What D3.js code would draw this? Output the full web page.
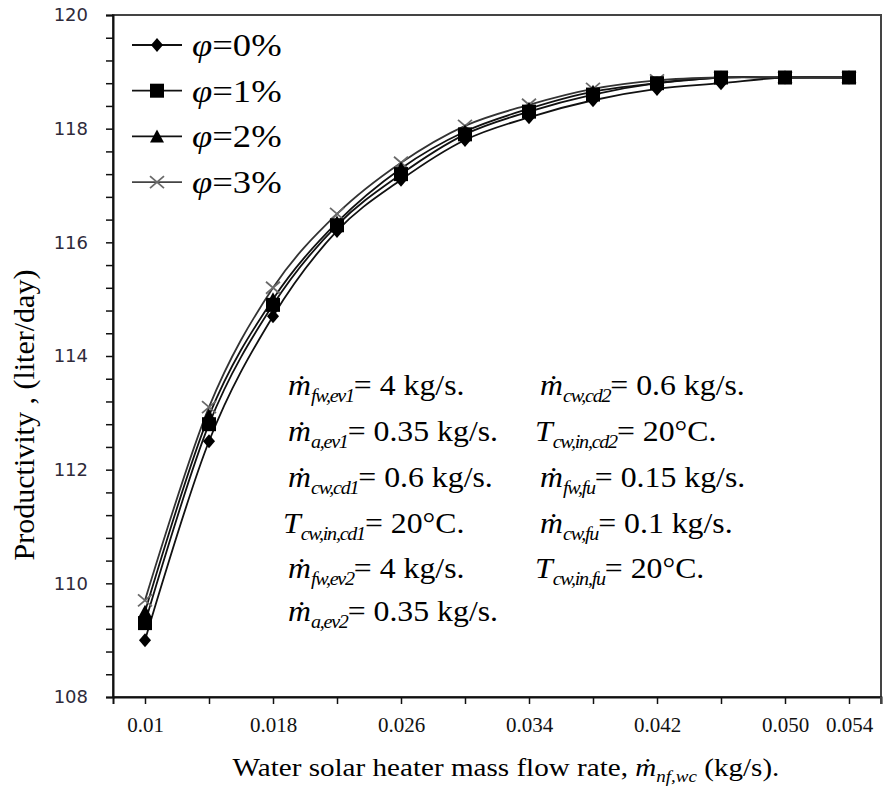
<!DOCTYPE html>
<html>
<head>
<meta charset="utf-8">
<script src="https://cdn.jsdelivr.net/npm/d3@7"></script>
<style>
  html, body { margin: 0; padding: 0; background: #fff; }
  svg { display: block; }
</style>
</head>
<body>
<svg id="chart" width="883" height="789"></svg>
<script>
// Water solar heater mass flow rate (kg/s)
const flowRates = [0.01, 0.014, 0.018, 0.022, 0.026, 0.03, 0.034, 0.038, 0.042, 0.046, 0.05, 0.054];
const flowTickLabels = ["0.01", "", "0.018", "", "0.026", "", "0.034", "", "0.042", "", "0.050", "0.054"];

// Productivity (liter/day) for each nanoparticle volume fraction
const phi0 = [109.0, 112.5, 114.7, 116.2, 117.1, 117.8, 118.2, 118.5, 118.7, 118.8, 118.9, 118.9];
const phi1 = [109.3, 112.8, 114.9, 116.3, 117.2, 117.9, 118.3, 118.6, 118.8, 118.9, 118.9, 118.9];
const phi2 = [109.5, 112.95, 115.0, 116.35, 117.3, 117.95, 118.35, 118.65, 118.8, 118.9, 118.9, 118.9];
const phi3 = [109.7, 113.1, 115.2, 116.5, 117.4, 118.05, 118.42, 118.7, 118.85, 118.9, 118.9, 118.9];

const seriesNames = ["0%", "1%", "2%", "3%"];
const seriesValues = [phi0, phi1, phi2, phi3];
const markerKinds = ["diamond", "square", "triangle", "cross"];

const yMajorTicks = [108, 110, 112, 114, 116, 118, 120];

const svg = d3.select("#chart");
const W = 883, H = 789;
const m = { left: 113, top: 15, right: 2, bottom: 92 };
const plotW = W - m.left - m.right;
const plotH = H - m.top - m.bottom;

const serif = "Liberation Serif";
const sans = "DejaVu Sans";
const WIDEN = 1.06; // annotation text is set slightly wide

const x = d3.scalePoint().domain(flowRates).range([0, plotW]).padding(0.5);
const y = d3.scaleLinear().domain([108, 120]).range([plotH, 0]);

const g = svg.append("g").attr("transform", `translate(${m.left},${m.top})`);

// Frame
g.append("rect")
  .attr("x", 0).attr("y", 0).attr("width", plotW).attr("height", plotH)
  .attr("fill", "none").attr("stroke", "#444").attr("stroke-width", 2);

// Y axis: major ticks every 2 with labels, minor ticks every 0.4
const yMinor = d3.range(0, 31).map(i => 108 + i * 0.4);
const yAxis = d3.axisLeft(y).tickValues(yMinor).tickSize(7).tickFormat("");
const yAxisG = g.append("g").call(yAxis);
yAxisG.select(".domain").attr("stroke", "#111").attr("stroke-width", 2);
yAxisG.selectAll(".tick line").attr("stroke", "#111").attr("stroke-width", 1.5);

g.append("g").selectAll("text").data(yMajorTicks).join("text")
  .attr("x", -25).attr("y", d => y(d)).attr("dy", "0.36em")
  .attr("text-anchor", "end")
  .attr("font-family", sans).attr("font-size", 18)
  .attr("fill", "#2e2a3a")
  .text(d => d);

// X axis: tick at each flow rate
const xAxis = d3.axisBottom(x).tickSize(7).tickFormat((d, i) => flowTickLabels[i]);
const xAxisG = g.append("g").attr("transform", `translate(0,${plotH})`).call(xAxis)
  .attr("font-family", serif);
xAxisG.select(".domain").attr("stroke", "#111").attr("stroke-width", 2);
xAxisG.selectAll(".tick line").attr("stroke", "#111").attr("stroke-width", 1.5);
xAxisG.selectAll(".tick text")
  .attr("font-family", serif).attr("font-size", 21).attr("fill", "#111")
  .attr("y", 20);
g.append("line").attr("x1", plotW).attr("x2", plotW).attr("y1", plotH).attr("y2", plotH + 7)
  .attr("stroke", "#444").attr("stroke-width", 2);

// Curves
const line = d3.line()
  .x((d, i) => x(flowRates[i]))
  .y(d => y(d))
  .curve(d3.curveCardinal.tension(0));

const lineColors = ["#111", "#111", "#111", "#333"];
seriesValues.forEach((vals, s) => {
  g.append("path").datum(vals)
    .attr("d", line)
    .attr("fill", "none")
    .attr("stroke", lineColors[s])
    .attr("stroke-width", 1.8);
});

function drawMarker(sel, kind) {
  if (kind === "diamond") {
    sel.append("path").attr("d", "M0,-7L6,0L0,7L-6,0Z").attr("fill", "#000");
  } else if (kind === "square") {
    sel.append("rect").attr("x", -7).attr("y", -7).attr("width", 14).attr("height", 14).attr("fill", "#000");
  } else if (kind === "triangle") {
    sel.append("path").attr("d", "M0,-7L7,6L-7,6Z").attr("fill", "#000");
  } else {
    sel.append("path").attr("d", "M-7,-6L7,6M-7,6L7,-6")
      .attr("stroke", "#6a6a6a").attr("stroke-width", 1.8).attr("fill", "none");
  }
}

// Cross markers sit underneath the filled ones
[3, 0, 1, 2].forEach(s => {
  g.append("g").selectAll("g").data(seriesValues[s]).join("g")
    .attr("transform", (d, i) => `translate(${x(flowRates[i])},${y(d)})`)
    .each(function () { drawMarker(d3.select(this), markerKinds[s]); });
});

// Legend
const legend = svg.append("g").attr("transform", "translate(132,45)");
seriesNames.forEach((name, i) => {
  const row = legend.append("g").attr("transform", `translate(0,${i * 45.7})`);
  row.append("line").attr("x1", 0).attr("x2", 50).attr("y1", 0).attr("y2", 0)
    .attr("stroke", i === 3 ? "#444" : "#111").attr("stroke-width", 1.8);
  drawMarker(row.append("g").attr("transform", "translate(25,0)"), markerKinds[i]);
  const t = row.append("text").attr("transform", "translate(60,11) scale(1.18,1)")
    .attr("font-family", serif).attr("font-size", 31).attr("fill", "#000");
  t.append("tspan").attr("font-style", "italic").text("φ");
  t.append("tspan").text("=" + name);
});

// Operating-condition annotations: symbol, subscript, value
function expr(px, py, sym, sub, rest, dot) {
  const t = svg.append("text").attr("transform", `translate(${px},${py}) scale(${WIDEN},1)`)
    .attr("font-family", serif).attr("font-size", 30).attr("fill", "#000");
  t.append("tspan").attr("font-style", "italic").text(dot ? "ṁ" : sym);
  t.append("tspan").attr("font-style", "italic").attr("font-size", 19)
    .attr("dy", 7).attr("letter-spacing", -1.2).text(sub);
  t.append("tspan").attr("dy", -7).text(rest);
}

const annCol1 = [
  ["m", "fw,ev1", "= 4 kg/s.", true],
  ["m", "a,ev1", "= 0.35 kg/s.", true],
  ["m", "cw,cd1", "= 0.6 kg/s.", true],
  ["T", "cw,in,cd1", "= 20°C.", false],
  ["m", "fw,ev2", "= 4 kg/s.", true],
  ["m", "a,ev2", "= 0.35 kg/s.", true]
];
const annCol2 = [
  ["m", "cw,cd2", "= 0.6 kg/s.", true],
  ["T", "cw,in,cd2", "= 20°C.", false],
  ["m", "fw,fu", "= 0.15 kg/s.", true],
  ["m", "cw,fu", "= 0.1 kg/s.", true],
  ["T", "cw,in,fu", "= 20°C.", false]
];
const rowY = [395, 441, 487, 533, 578, 621];
annCol1.forEach((a, i) => expr(a[3] ? 288 : 283, rowY[i], a[0], a[1], a[2], a[3]));
annCol2.forEach((a, i) => expr(a[3] ? 540 : 535, rowY[i], a[0], a[1], a[2], a[3]));

// Axis titles
const xt = svg.append("text").attr("transform", "translate(506,776) scale(1.12,1)")
  .attr("text-anchor", "middle")
  .attr("font-family", serif).attr("font-size", 26).attr("fill", "#000");
xt.append("tspan").text("Water solar heater mass flow rate, ");
xt.append("tspan").attr("font-style", "italic").text("ṁ");
xt.append("tspan").attr("font-style", "italic").attr("font-size", 17).attr("dy", 6).text("nf,wc");
xt.append("tspan").attr("dy", -6).text(" (kg/s).");

svg.append("text")
  .attr("transform", "translate(34,415) rotate(-90)")
  .attr("text-anchor", "middle")
  .attr("font-family", serif).attr("font-size", 30).attr("fill", "#000")
  .text("Productivity , (liter/day)");
</script>
</body>
</html>
